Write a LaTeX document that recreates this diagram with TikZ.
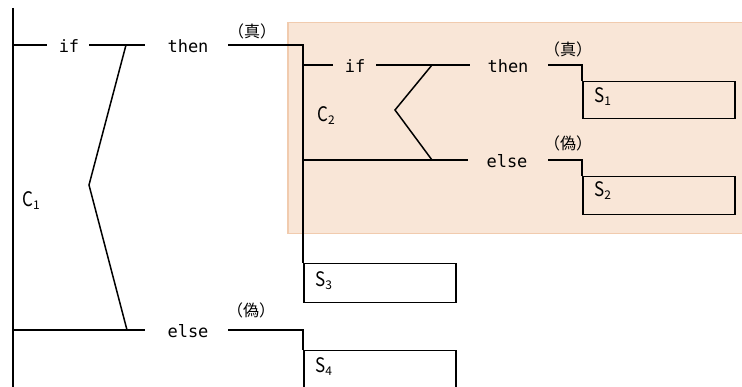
\documentclass[tikz,border=0pt]{standalone}
\usepackage{fontspec}
\newfontfamily\jpfont{Noto Sans CJK JP}
\newfontfamily\monofont{DejaVu Sans Mono}
\definecolor{panelfill}{RGB}{249,230,215}
\definecolor{paneledge}{RGB}{241,203,174}
\newcommand{\lab}[2]{\scalebox{0.85}[1]{#1}\raisebox{-3pt}{\fontsize{12}{12}\selectfont #2}}
\tikzset{
  ln/.style={line width=1.5pt},
  kw/.style={font=\monofont\fontsize{17}{17}\selectfont, inner sep=0pt, anchor=base},
  tag/.style={font=\jpfont\fontsize{16}{16}\selectfont, inner sep=0pt},
  lbl/.style={font=\jpfont\fontsize{20}{20}\selectfont, inner sep=0pt, anchor=base west},
  sbox/.style={draw, line width=1.5pt},
  panel/.style={fill=panelfill, draw=paneledge, line width=1.5pt}
}
\begin{document}
\begin{tikzpicture}[x=1pt,y=-1pt]
\useasboundingbox (0,0) rectangle (742,387);
\clip (0,0) rectangle (742,387);
% panel
\node[panel, inner sep=0pt, minimum width=460pt, minimum height=211pt, anchor=north west] (panel) at (287,22) {};
% coordinates
\coordinate (Ltop) at (13,8);
\coordinate (Lbot) at (13,395);
\coordinate (oif0) at (13,45);
\coordinate (oif1) at (47,45);
\coordinate (oif2) at (89,45);
\coordinate (oif3) at (145,45);
\coordinate (oth) at (228,45);
\coordinate (odtop) at (126,45);
\coordinate (odmid) at (89,185);
\coordinate (odbot) at (127,330);
\coordinate (oel0) at (13,330);
\coordinate (oel1) at (145,330);
\coordinate (oel2) at (228,330);
\coordinate (iif0) at (303,65);
\coordinate (iif1) at (333,65);
\coordinate (iif2) at (376,65);
\coordinate (iif3) at (470,65);
\coordinate (ith) at (548,65);
\coordinate (idtop) at (432,65);
\coordinate (idmid) at (395,110);
\coordinate (idbot) at (432,160);
\coordinate (iel0) at (303,160);
\coordinate (iel1) at (468,160);
\coordinate (iel2) at (548,160);
% boxes
\node[sbox, inner sep=0pt, minimum width=152pt, minimum height=37pt, anchor=north west] (S1) at (582,81) {};
\node[sbox, inner sep=0pt, minimum width=152pt, minimum height=38pt, anchor=north west] (S2) at (582,176) {};
\node[sbox, inner sep=0pt, minimum width=152pt, minimum height=39pt, anchor=north west] (S3) at (303,263) {};
\node[sbox, inner sep=0pt, minimum width=152pt, minimum height=60pt, anchor=north west] (S4) at (303,350) {};
% keywords
\node[kw] (kif) at (69,53) {if};
\node[kw] (kthen) at (188,53) {then};
\node[kw] (kelse) at (188,338) {else};
\node[kw] (kif2) at (355,73) {if};
\node[kw] (kthen2) at (508,73) {then};
\node[kw] (kelse2) at (507,168) {else};
% tags
\node[tag] (t1) at (252,31) {（真）};
\node[tag] (t2) at (251,310) {（偽）};
\node[tag] (t3) at (568,49) {（真）};
\node[tag] (t4) at (568,143) {（偽）};
% labels
\node[lbl] (c1) at (22,207) {\lab{C}{1}};
\node[lbl] (c2) at (317,122) {\lab{C}{2}};
\node[lbl] (s1) at (594,103) {\lab{S}{1}};
\node[lbl] (s2) at (594,197) {\lab{S}{2}};
\node[lbl] (s3) at (315,287) {\lab{S}{3}};
\node[lbl] (s4) at (315,373) {\lab{S}{4}};
% lines
\draw[ln] (Ltop) -- (Lbot);
\draw[ln] (oif0) -- (oif1);
\draw[ln] (oif2) -- (oif3);
\draw[ln] (oth) -| (S3.north west);
\draw[ln] (odtop) -- (odmid) -- (odbot);
\draw[ln] (oel0) -- (oel1);
\draw[ln] (oel2) -| (S4.north west);
\draw[ln] (iif0) -- (iif1);
\draw[ln] (iif2) -- (iif3);
\draw[ln] (ith) -| (S1.north west);
\draw[ln] (idtop) -- (idmid) -- (idbot);
\draw[ln] (iel0) -- (iel1);
\draw[ln] (iel2) -| (S2.north west);
\end{tikzpicture}
\end{document}
